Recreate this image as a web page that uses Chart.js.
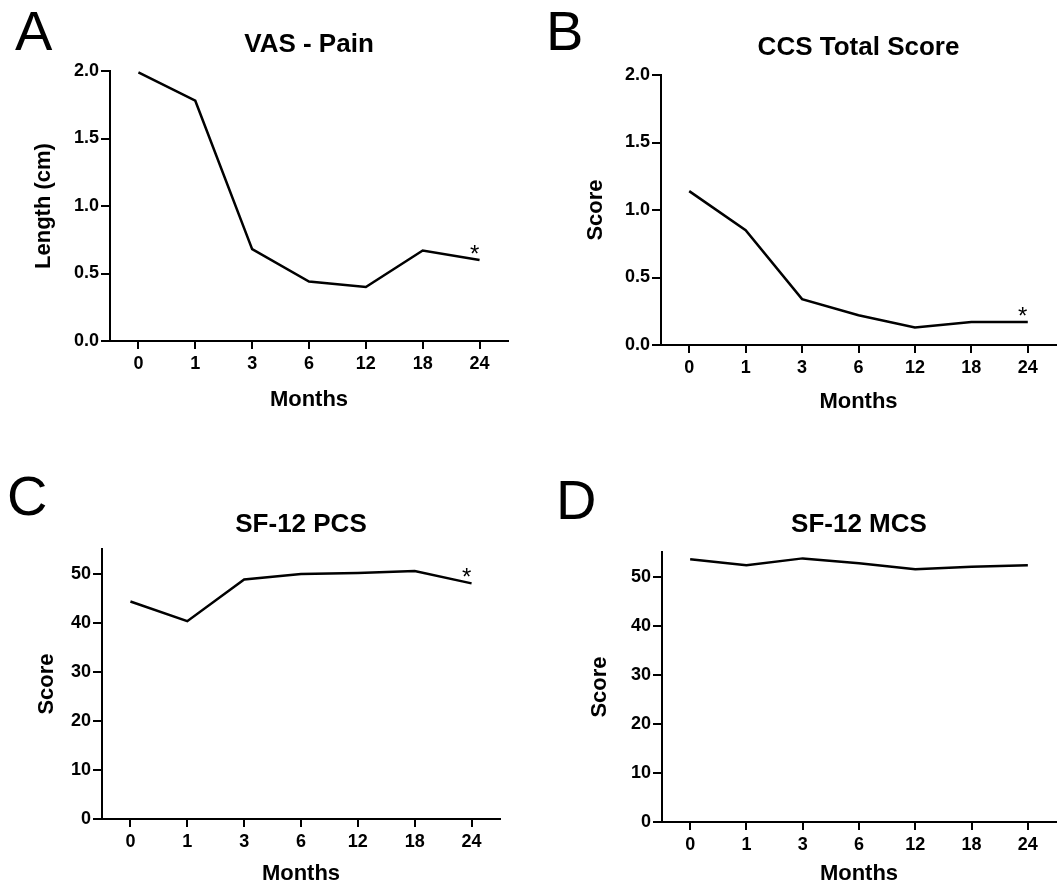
<!DOCTYPE html>
<html>
<head>
<meta charset="utf-8">
<title>Outcome scores over 24 months</title>
<script src="https://cdn.jsdelivr.net/npm/chart.js@4.4.0/dist/chart.umd.min.js"></script>
<style>
    html, body { margin: 0; padding: 0; background: #fff; }
    body { width: 1063px; height: 887px; position: relative; overflow: hidden; font-family: "Liberation Sans", Arial, sans-serif; }
    canvas { position: absolute; }
    .letter { position: absolute; font-size: 56px; line-height: 1; color: #000; }
</style>
</head>
<body>
<div class="letter" style="left:15px;top:3px">A</div>
<div class="letter" style="left:546px;top:3px">B</div>
<div class="letter" style="left:7px;top:468px">C</div>
<div class="letter" style="left:556px;top:472px">D</div>

<canvas id="panel-a" width="530" height="420" style="left:0;top:0"></canvas>
<canvas id="panel-b" width="533" height="420" style="left:530px;top:0"></canvas>
<canvas id="panel-c" width="530" height="447" style="left:0;top:440px"></canvas>
<canvas id="panel-d" width="533" height="447" style="left:530px;top:440px"></canvas>

<script>
// 数据
const months = ['0', '1', '3', '6', '12', '18', '24'];
const vasPain = [1.99, 1.78, 0.68, 0.44, 0.40, 0.67, 0.60];
const ccsTotal = [1.14, 0.85, 0.34, 0.22, 0.13, 0.17, 0.17];
const pcsScore = [44.3, 40.3, 48.8, 49.9, 50.1, 50.5, 48.0];
const mcsScore = [53.5, 52.3, 53.7, 52.7, 51.5, 52.0, 52.3];

const FONT = '"Liberation Sans", Arial, sans-serif';

// 标题和星号（以绘图区为中心）
const panelText = {
    id: 'panelText',
    afterDraw(chart, args, opts) {
        const ctx = chart.ctx;
        const area = chart.chartArea;
        ctx.save();
        ctx.fillStyle = '#000';
        ctx.textAlign = 'center';
        ctx.textBaseline = 'middle';
        ctx.font = 'bold 26px ' + FONT;
        ctx.fillText(opts.title, (area.left + area.right) / 2, opts.titleY);
        if (opts.star) {
            const meta = chart.getDatasetMeta(0);
            const last = meta.data[meta.data.length - 1];
            ctx.font = '24px ' + FONT;
            ctx.textBaseline = 'alphabetic';
            ctx.fillText('*', last.x - 5, last.y + 2);
        }
        ctx.restore();
    }
};

function makePanel(id, values, cfg) {
    const canvas = document.getElementById(id);
    const ctx = canvas.getContext('2d');
    const w = canvas.width, h = canvas.height;

    return new Chart(ctx, {
        type: 'line',
        data: {
            labels: months,
            datasets: [{
                data: values,
                borderColor: '#000',
                borderWidth: 2.5,
                pointRadius: 0,
                tension: 0,
                fill: false
            }]
        },
        options: {
            responsive: false,
            animation: false,
            layout: {
                padding: { top: cfg.area.top, right: w - cfg.area.right, left: 0, bottom: 0 }
            },
            plugins: {
                legend: { display: false },
                tooltip: { enabled: false },
                panelText: { title: cfg.title, titleY: cfg.titleY, star: cfg.star }
            },
            scales: {
                x: {
                    offset: true,
                    ticks: {
                        color: '#000',
                        font: { family: FONT, size: 18, weight: 'bold' },
                        padding: 4,
                        autoSkip: false,
                        maxRotation: 0
                    },
                    grid: { drawOnChartArea: false, tickLength: 8, color: '#000', lineWidth: 2, offset: false },
                    border: { color: '#000', width: 2 },
                    title: {
                        display: true,
                        text: 'Months',
                        color: '#000',
                        font: { family: FONT, size: 22, weight: 'bold' },
                        padding: { top: 0, bottom: cfg.monthsPad }
                    },
                    afterFit: s => { s.height = h - cfg.area.bottom; }
                },
                y: {
                    min: 0,
                    max: cfg.max,
                    ticks: {
                        stepSize: cfg.step,
                        includeBounds: false,
                        color: '#000',
                        font: { family: FONT, size: 18, weight: 'bold' },
                        padding: 2,
                        callback: v => cfg.step < 1 ? v.toFixed(1) : v
                    },
                    grid: { drawOnChartArea: false, tickLength: 9, color: '#000', lineWidth: 2 },
                    border: { color: '#000', width: 2 },
                    title: {
                        display: true,
                        text: cfg.yTitle,
                        color: '#000',
                        font: { family: FONT, size: 22, weight: 'bold' },
                        padding: { top: cfg.yTitlePad, bottom: 0 }
                    },
                    afterFit: s => { s.width = cfg.area.left; }
                }
            }
        },
        plugins: [panelText]
    });
}

makePanel('panel-a', vasPain, {
    title: 'VAS - Pain', titleY: 45, star: true,
    area: { left: 110, top: 71, right: 508, bottom: 341 },
    max: 2, step: 0.5, yTitle: 'Length (cm)', yTitlePad: 31, monthsPad: 7
});
makePanel('panel-b', ccsTotal, {
    title: 'CCS Total Score', titleY: 48, star: true,
    area: { left: 131, top: 75, right: 526, bottom: 345 },
    max: 2, step: 0.5, yTitle: 'Score', yTitlePad: 53, monthsPad: 5
});
makePanel('panel-c', pcsScore, {
    title: 'SF-12 PCS', titleY: 85, star: true,
    area: { left: 102, top: 109, right: 500, bottom: 379 },
    max: 55, step: 10, yTitle: 'Score', yTitlePad: 34, monthsPad: 0
});
makePanel('panel-d', mcsScore, {
    title: 'SF-12 MCS', titleY: 85, star: false,
    area: { left: 132, top: 112, right: 526, bottom: 382 },
    max: 55, step: 10, yTitle: 'Score', yTitlePad: 57, monthsPad: 0
});
</script>
</body>
</html>
